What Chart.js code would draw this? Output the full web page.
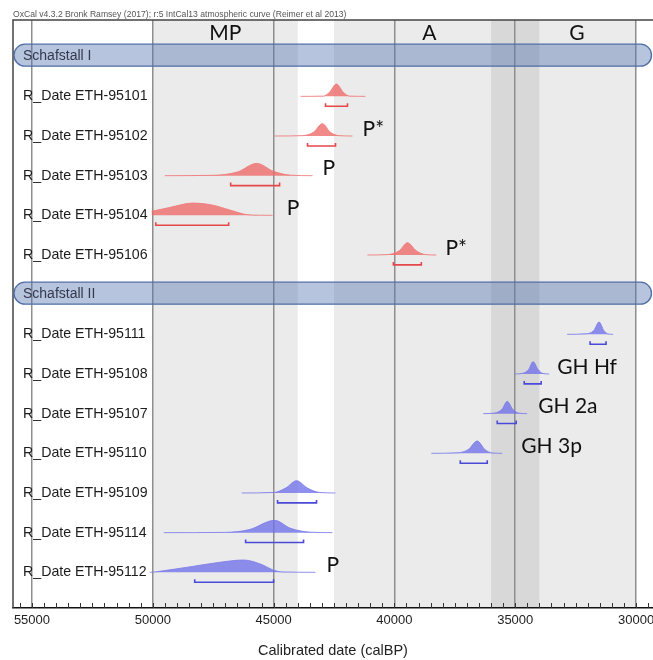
<!DOCTYPE html>
<html>
<head>
<meta charset="utf-8">
<script src="https://cdn.jsdelivr.net/npm/chart.js@4.4.1/dist/chart.umd.min.js"></script>
<style>
  html, body { margin: 0; padding: 0; background: #fff; }
  #wrap { width: 653px; height: 660px; }
</style>
</head>
<body>
<div id="wrap"><canvas id="oxcal" width="653" height="660"></canvas></div>
<script>
/* ---------- data ---------- */

const headerText = "OxCal v4.3.2 Bronk Ramsey (2017); r:5 IntCal13 atmospheric curve (Reimer et al 2013)";

const groupNames = ["Schafstall I", "Schafstall II"];

// Schafstall I
const rowsI = ["R_Date ETH-95101", "R_Date ETH-95102", "R_Date ETH-95103", "R_Date ETH-95104", "R_Date ETH-95106"];
// [calBP, relative probability]
const curvesI = [
  [[43884, 0], [42950, 0.02], [42700, 0.3], [42400, 1], [42100, 0.3], [41850, 0.02], [41198, 0]],
  [[44959, 0], [43800, 0.03], [43350, 0.3], [42980, 1], [42650, 0.3], [42300, 0.03], [41736, 0]],
  [[49504, 0], [47500, 0.03], [46500, 0.3], [45700, 1], [45000, 0.35], [44300, 0.04], [43389, 0]],
  [[50050, 0.33], [49300, 0.64], [48350, 1], [47520, 0.83], [46820, 0.44], [46120, 0.06], [45600, 0.01], [45042, 0]],
  [[41116, 0], [40300, 0.03], [39800, 0.35], [39460, 1], [39100, 0.35], [38700, 0.03], [38265, 0]],
];
const rangesI = [[42852, 41943], [43595, 42438], [46777, 44752], [49876, 46860], [40042, 38885]];

// Schafstall II
const rowsII = ["R_Date ETH-95111", "R_Date ETH-95108", "R_Date ETH-95107", "R_Date ETH-95110", "R_Date ETH-95109", "R_Date ETH-95114", "R_Date ETH-95112"];
const curvesII = [
  [[32853, 0], [32100, 0.04], [31750, 0.3], [31530, 1], [31330, 0.3], [31150, 0.03], [30952, 0]],
  [[35001, 0], [34700, 0.05], [34450, 0.35], [34260, 1], [34050, 0.35], [33850, 0.04], [33596, 0]],
  [[36323, 0], [35850, 0.05], [35550, 0.35], [35330, 1], [35100, 0.35], [34850, 0.04], [34505, 0]],
  [[38472, 0], [37400, 0.04], [36950, 0.3], [36570, 1], [36250, 0.3], [35950, 0.03], [35538, 0]],
  [[46322, 0], [45000, 0.04], [44500, 0.4], [44050, 1], [43600, 0.4], [43100, 0.04], [42439, 0]],
  [[49546, 0], [47000, 0.02], [46000, 0.25], [44960, 1], [44300, 0.35], [43500, 0.04], [42563, 0]],
  [[50124, 0], [49900, 0.03], [49300, 0.2], [48350, 0.48], [47350, 0.78], [46240, 1], [45450, 0.6], [45040, 0.2], [44630, 0.03], [43265, 0]],
];
const rangesII = [[31902, 31241], [34628, 33926], [35744, 34959], [37273, 36158], [44835, 43223], [46157, 43760], [48265, 45000]];

// archaeological phases (shaded)
const phaseNames = ["MP", "A", "G"];
const phaseFrom = [50000, 42500, 36000];
const phaseTo = [44000, 34000, 30000];
const phaseLabelAt = [47000, 38550, 32450];

// hand-added notes
const noteRows = ["R_Date ETH-95102", "R_Date ETH-95103", "R_Date ETH-95104", "R_Date ETH-95106", "R_Date ETH-95108", "R_Date ETH-95107", "R_Date ETH-95110", "R_Date ETH-95112"];
const noteText = ["P*", "P", "P", "P*", "GH Hf", "GH 2a", "GH 3p", "P"];
const noteAt = [41320, 42980, 44460, 37890, 33265, 34050, 34750, 42810];

const majorTicks = [55000, 50000, 45000, 40000, 35000, 30000];
const axisTitle = "Calibrated date (calBP)";

/* ---------- build ---------- */

const X_MIN = 29298, X_MAX = 55785;
const PEAK = 0.31;          // curve height, in row units
const RANGE_DROP = 0.25;    // range bar below baseline
const RANGE_TICK = 0.075;
const SANS = '"Liberation Sans", Arial, sans-serif';

const allRows = [groupNames[0], ...rowsI, groupNames[1], ...rowsII];
const tickValues = [];
for (let v = 29500; v <= 55500; v += 500) tickValues.push(v);

const datasets = [];

function addGroup(rows, curves, ranges, fillCol, lineCol, rangeCol) {
  rows.forEach((name, i) => {
    const r = allRows.indexOf(name);
    datasets.push({
      label: name,
      data: curves[i].map(([d, p]) => ({ x: d, y: r - p * PEAK })),
      fill: { value: r },
      backgroundColor: fillCol,
      borderColor: lineCol,
      borderWidth: 1,
      pointRadius: 0,
      cubicInterpolationMode: "monotone",
    });
    const [a, b] = ranges[i];
    const yb = r + RANGE_DROP;
    datasets.push({
      label: name + " 95.4%",
      data: [{ x: a, y: yb - RANGE_TICK }, { x: a, y: yb }, { x: b, y: yb }, { x: b, y: yb - RANGE_TICK }],
      fill: false,
      borderColor: rangeCol,
      borderWidth: 1.6,
      pointRadius: 0,
      tension: 0,
    });
  });
}

addGroup(rowsI, curvesI, rangesI, "rgba(238,104,104,0.78)", "rgba(240,120,120,0.85)", "#e5484a");
addGroup(rowsII, curvesII, rangesII, "rgba(112,112,232,0.78)", "rgba(125,125,235,0.85)", "#4a4ad8");

/* ---------- OxCal look: bands, frame, capsules, labels ---------- */

const oxcalLook = {
  id: "oxcalLook",
  beforeDraw(chart) {
    const { ctx, chartArea: a, scales: { x } } = chart;
    ctx.save();
    ctx.fillStyle = "#fff";
    ctx.fillRect(0, 0, chart.width, chart.height);
    ctx.fillStyle = "rgba(0,0,0,0.078)";
    phaseNames.forEach((n, i) => {
      const x1 = x.getPixelForValue(phaseFrom[i]);
      const x2 = x.getPixelForValue(phaseTo[i]);
      ctx.fillRect(x1, a.top, x2 - x1, a.bottom - a.top);
    });
    ctx.restore();
  },
  beforeDatasetsDraw(chart) {
    const { ctx, chartArea: a, scales: { y } } = chart;
    ctx.save();
    // frame
    ctx.strokeStyle = "#444";
    ctx.lineWidth = 1.5;
    ctx.beginPath();
    ctx.moveTo(a.left, a.bottom);
    ctx.lineTo(a.left, a.top);
    ctx.lineTo(a.right, a.top);
    ctx.stroke();
    // group capsules
    groupNames.forEach(g => {
      const cy = y.getPixelForValue(allRows.indexOf(g)) - 1.5;
      ctx.beginPath();
      ctx.roundRect(a.left + 1, cy - 11, a.right - a.left - 2.5, 22, 11);
      ctx.fillStyle = "rgba(80,115,175,0.42)";
      ctx.fill();
      ctx.strokeStyle = "#4f6ea6";
      ctx.lineWidth = 1.3;
      ctx.stroke();
      ctx.fillStyle = "#34384a";
      ctx.font = "14px " + SANS;
      ctx.textAlign = "left";
      ctx.textBaseline = "middle";
      ctx.fillText(g, a.left + 10, cy + 1);
    });
    ctx.restore();
  },
  afterDraw(chart) {
    const { ctx, chartArea: a, scales: { x, y } } = chart;
    ctx.save();
    // header
    ctx.fillStyle = "#555";
    ctx.font = "8.6px " + SANS;
    ctx.textAlign = "left";
    ctx.textBaseline = "alphabetic";
    ctx.fillText(headerText, a.left, a.top - 3);
    // inward minor ticks
    ctx.strokeStyle = "#333";
    ctx.lineWidth = 1;
    x.ticks.forEach(t => {
      const px = Math.round(x.getPixelForValue(t.value)) + 0.5;
      ctx.beginPath();
      ctx.moveTo(px, a.bottom);
      ctx.lineTo(px, a.bottom - 5);
      ctx.stroke();
    });
    // row labels
    ctx.fillStyle = "#1c1c1c";
    ctx.font = "14.2px " + SANS;
    ctx.textBaseline = "middle";
    [...rowsI, ...rowsII].forEach(name => {
      ctx.fillText(name, a.left + 10, y.getPixelForValue(allRows.indexOf(name)));
    });
    // phase names
    ctx.font = '21px Lato, "Open Sans", sans-serif';
    ctx.fillStyle = "#111";
    ctx.textAlign = "center";
    phaseNames.forEach((n, i) => {
      ctx.fillText(n, x.getPixelForValue(phaseLabelAt[i]), a.top + 13);
    });
    // notes
    ctx.textAlign = "left";
    noteRows.forEach((name, i) => {
      ctx.fillText(noteText[i], x.getPixelForValue(noteAt[i]), y.getPixelForValue(allRows.indexOf(name)) - 7);
    });
    ctx.restore();
  },
};

new Chart(document.getElementById("oxcal"), {
  type: "line",
  data: { datasets },
  plugins: [oxcalLook],
  options: {
    responsive: false,
    animation: false,
    devicePixelRatio: 1,
    layout: { padding: { top: 20, left: 13, right: 0, bottom: 0 } },
    plugins: { legend: { display: false }, tooltip: { enabled: false } },
    scales: {
      x: {
        type: "linear",
        reverse: true,
        min: X_MIN,
        max: X_MAX,
        afterBuildTicks: axis => { axis.ticks = tickValues.map(v => ({ value: v })); },
        grid: {
          drawTicks: false,
          lineWidth: 1.5,
          color: c => (c.tick && c.tick.value % 5000 === 0) ? "#8e8e8e" : "rgba(0,0,0,0)",
        },
        border: { display: true, color: "#111", width: 1.5 },
        ticks: {
          autoSkip: false,
          maxRotation: 0,
          padding: 5,
          color: "#222",
          font: { family: SANS, size: 13 },
          callback: v => (majorTicks.includes(v) ? String(v) : ""),
        },
        title: {
          display: true,
          text: axisTitle,
          color: "#222",
          font: { family: SANS, size: 14.5 },
          padding: { top: 9, bottom: 0 },
        },
      },
      y: {
        type: "linear",
        reverse: true,
        min: -0.925,
        max: 13.9,
        display: false,
      },
    },
  },
});
</script>
</body>
</html>
